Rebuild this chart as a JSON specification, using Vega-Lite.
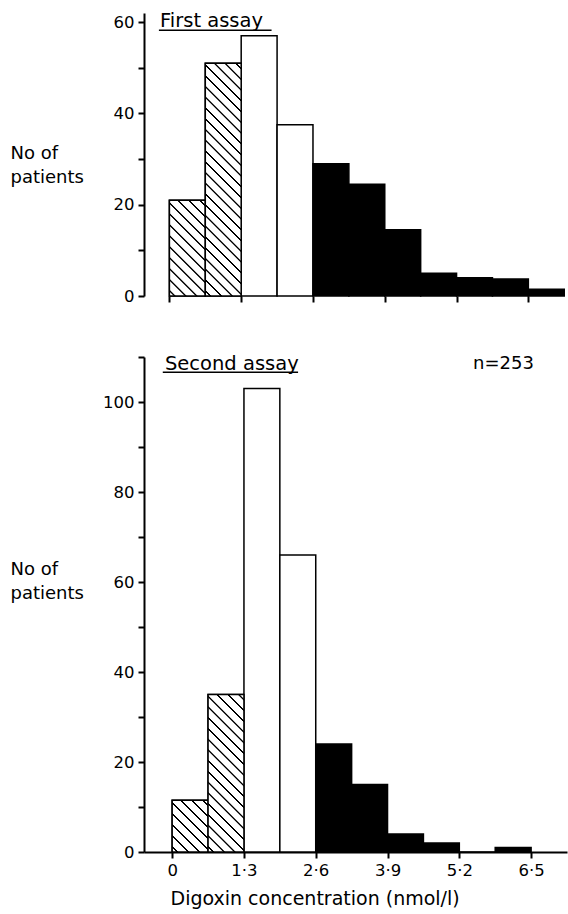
{
"$schema": "https://vega.github.io/schema/vega-lite/v6.json",
"background": "white",
"padding": {"left": 10, "top": 11, "right": 1, "bottom": 4},
"spacing": 44,
"datasets": {
"first": [
{"lo": 0, "hi": 0.65, "n": 21, "zone": "low"},
{"lo": 0.65, "hi": 1.3, "n": 51, "zone": "low"},
{"lo": 1.3, "hi": 1.95, "n": 57, "zone": "mid"},
{"lo": 1.95, "hi": 2.6, "n": 37.5, "zone": "mid"},
{"lo": 2.6, "hi": 3.25, "n": 29, "zone": "high"},
{"lo": 3.25, "hi": 3.9, "n": 24.5, "zone": "high"},
{"lo": 3.9, "hi": 4.55, "n": 14.5, "zone": "high"},
{"lo": 4.55, "hi": 5.2, "n": 5, "zone": "high"},
{"lo": 5.2, "hi": 5.85, "n": 4, "zone": "high"},
{"lo": 5.85, "hi": 6.5, "n": 3.7, "zone": "high"},
{"lo": 6.5, "hi": 7.15, "n": 1.5, "zone": "high"}
],
"second": [
{"lo": 0, "hi": 0.65, "n": 11.5, "zone": "low"},
{"lo": 0.65, "hi": 1.3, "n": 35, "zone": "low"},
{"lo": 1.3, "hi": 1.95, "n": 103, "zone": "mid"},
{"lo": 1.95, "hi": 2.6, "n": 66, "zone": "mid"},
{"lo": 2.6, "hi": 3.25, "n": 24, "zone": "high"},
{"lo": 3.25, "hi": 3.9, "n": 15, "zone": "high"},
{"lo": 3.9, "hi": 4.55, "n": 4, "zone": "high"},
{"lo": 4.55, "hi": 5.2, "n": 2, "zone": "high"},
{"lo": 5.2, "hi": 5.85, "n": 0, "zone": "high"},
{"lo": 5.85, "hi": 6.5, "n": 1, "zone": "high"}
]
},
"config": {
"view": {"stroke": null},
"font": "DejaVu Sans",
"axis": {"grid": false, "domainColor": "black", "domainWidth": 2, "tickColor": "black", "tickWidth": 2, "tickSize": 6, "labelFont": "DejaVu Sans", "labelFontSize": 16.5, "labelColor": "black", "labelPadding": 4, "labelFlush": false, "labelOverlap": false, "labelBound": false, "titleFont": "DejaVu Sans", "titleFontSize": 18, "titleFontWeight": "normal", "titleColor": "black"}
},
"vconcat": [
{
"width": 423, "height": 283,
"layer": [
{
"data": {"name": "first"},
"mark": {"type": "rect", "stroke": "black", "strokeWidth": 1.5},
"encoding": {
"x": {"field": "lo", "type": "quantitative", "scale": {"domain": [-0.46, 7.2], "nice": false, "zero": false}, "axis": {"values": [0, 0.65, 1.3, 1.95, 2.6, 3.25, 3.9, 4.55, 5.2, 5.85, 6.5, 7.15], "labels": false, "domain": false, "title": null}},
"x2": {"field": "hi"},
"y": {"field": "n", "type": "quantitative", "scale": {"domain": [0, 62], "nice": false}, "axis": {"values": [0, 10, 20, 30, 40, 50, 60], "labelExpr": "datum.value % 20 == 0 ? datum.label : ''", "title": ["No of", "patients"], "titleAngle": 0, "titleAlign": "left", "titleBaseline": "alphabetic", "titleX": -134, "titleY": 145, "titleLineHeight": 24}},
"y2": {"datum": 0},
"fill": {"field": "zone", "type": "nominal", "scale": {"domain": ["low", "mid", "high"], "range": ["white", "white", "black"]}, "legend": null}
}
},
{
"data": {"name": "first"},
"transform": [{"filter": "datum.lo == 0"}],
"mark": {"type": "rect", "stroke": "black", "strokeWidth": 1.5, "fill": {"gradient": "linear", "x1": 0, "y1": 1, "x2": 0.4513, "y2": -0.2055, "stops": [
{"offset":0.0317,"color":"#fff"},{"offset":0.0367,"color":"#000"},{"offset":0.0467,"color":"#000"},{"offset":0.0517,"color":"#fff"},
{"offset":0.1150,"color":"#fff"},{"offset":0.1200,"color":"#000"},{"offset":0.1300,"color":"#000"},{"offset":0.1350,"color":"#fff"},
{"offset":0.1983,"color":"#fff"},{"offset":0.2033,"color":"#000"},{"offset":0.2133,"color":"#000"},{"offset":0.2183,"color":"#fff"},
{"offset":0.2817,"color":"#fff"},{"offset":0.2867,"color":"#000"},{"offset":0.2967,"color":"#000"},{"offset":0.3017,"color":"#fff"},
{"offset":0.3650,"color":"#fff"},{"offset":0.3700,"color":"#000"},{"offset":0.3800,"color":"#000"},{"offset":0.3850,"color":"#fff"},
{"offset":0.4483,"color":"#fff"},{"offset":0.4533,"color":"#000"},{"offset":0.4633,"color":"#000"},{"offset":0.4683,"color":"#fff"},
{"offset":0.5317,"color":"#fff"},{"offset":0.5367,"color":"#000"},{"offset":0.5467,"color":"#000"},{"offset":0.5517,"color":"#fff"},
{"offset":0.6150,"color":"#fff"},{"offset":0.6200,"color":"#000"},{"offset":0.6300,"color":"#000"},{"offset":0.6350,"color":"#fff"},
{"offset":0.6983,"color":"#fff"},{"offset":0.7033,"color":"#000"},{"offset":0.7133,"color":"#000"},{"offset":0.7183,"color":"#fff"},
{"offset":0.7817,"color":"#fff"},{"offset":0.7867,"color":"#000"},{"offset":0.7967,"color":"#000"},{"offset":0.8017,"color":"#fff"},
{"offset":0.8650,"color":"#fff"},{"offset":0.8700,"color":"#000"},{"offset":0.8800,"color":"#000"},{"offset":0.8850,"color":"#fff"},
{"offset":0.9483,"color":"#fff"},{"offset":0.9533,"color":"#000"},{"offset":0.9633,"color":"#000"},{"offset":0.9683,"color":"#fff"}
]}},
"encoding": {"x": {"field": "lo", "type": "quantitative"}, "x2": {"field": "hi"}, "y": {"field": "n", "type": "quantitative"}, "y2": {"datum": 0}}
},
{
"data": {"name": "first"},
"transform": [{"filter": "datum.lo == 0.65"}],
"mark": {"type": "rect", "stroke": "black", "strokeWidth": 1.5, "fill": {"gradient": "linear", "x1": 0, "y1": 1, "x2": 0.1739, "y2": -0.1274, "stops": [
{"offset":0.0152,"color":"#fff"},{"offset":0.0176,"color":"#000"},{"offset":0.0224,"color":"#000"},{"offset":0.0248,"color":"#fff"},
{"offset":0.0552,"color":"#fff"},{"offset":0.0576,"color":"#000"},{"offset":0.0624,"color":"#000"},{"offset":0.0648,"color":"#fff"},
{"offset":0.0952,"color":"#fff"},{"offset":0.0976,"color":"#000"},{"offset":0.1024,"color":"#000"},{"offset":0.1048,"color":"#fff"},
{"offset":0.1352,"color":"#fff"},{"offset":0.1376,"color":"#000"},{"offset":0.1424,"color":"#000"},{"offset":0.1448,"color":"#fff"},
{"offset":0.1752,"color":"#fff"},{"offset":0.1776,"color":"#000"},{"offset":0.1824,"color":"#000"},{"offset":0.1848,"color":"#fff"},
{"offset":0.2152,"color":"#fff"},{"offset":0.2176,"color":"#000"},{"offset":0.2224,"color":"#000"},{"offset":0.2248,"color":"#fff"},
{"offset":0.2552,"color":"#fff"},{"offset":0.2576,"color":"#000"},{"offset":0.2624,"color":"#000"},{"offset":0.2648,"color":"#fff"},
{"offset":0.2952,"color":"#fff"},{"offset":0.2976,"color":"#000"},{"offset":0.3024,"color":"#000"},{"offset":0.3048,"color":"#fff"},
{"offset":0.3352,"color":"#fff"},{"offset":0.3376,"color":"#000"},{"offset":0.3424,"color":"#000"},{"offset":0.3448,"color":"#fff"},
{"offset":0.3752,"color":"#fff"},{"offset":0.3776,"color":"#000"},{"offset":0.3824,"color":"#000"},{"offset":0.3848,"color":"#fff"},
{"offset":0.4152,"color":"#fff"},{"offset":0.4176,"color":"#000"},{"offset":0.4224,"color":"#000"},{"offset":0.4248,"color":"#fff"},
{"offset":0.4552,"color":"#fff"},{"offset":0.4576,"color":"#000"},{"offset":0.4624,"color":"#000"},{"offset":0.4648,"color":"#fff"},
{"offset":0.4952,"color":"#fff"},{"offset":0.4976,"color":"#000"},{"offset":0.5024,"color":"#000"},{"offset":0.5048,"color":"#fff"},
{"offset":0.5352,"color":"#fff"},{"offset":0.5376,"color":"#000"},{"offset":0.5424,"color":"#000"},{"offset":0.5448,"color":"#fff"},
{"offset":0.5752,"color":"#fff"},{"offset":0.5776,"color":"#000"},{"offset":0.5824,"color":"#000"},{"offset":0.5848,"color":"#fff"},
{"offset":0.6152,"color":"#fff"},{"offset":0.6176,"color":"#000"},{"offset":0.6224,"color":"#000"},{"offset":0.6248,"color":"#fff"},
{"offset":0.6552,"color":"#fff"},{"offset":0.6576,"color":"#000"},{"offset":0.6624,"color":"#000"},{"offset":0.6648,"color":"#fff"},
{"offset":0.6952,"color":"#fff"},{"offset":0.6976,"color":"#000"},{"offset":0.7024,"color":"#000"},{"offset":0.7048,"color":"#fff"},
{"offset":0.7352,"color":"#fff"},{"offset":0.7376,"color":"#000"},{"offset":0.7424,"color":"#000"},{"offset":0.7448,"color":"#fff"},
{"offset":0.7752,"color":"#fff"},{"offset":0.7776,"color":"#000"},{"offset":0.7824,"color":"#000"},{"offset":0.7848,"color":"#fff"},
{"offset":0.8152,"color":"#fff"},{"offset":0.8176,"color":"#000"},{"offset":0.8224,"color":"#000"},{"offset":0.8248,"color":"#fff"},
{"offset":0.8552,"color":"#fff"},{"offset":0.8576,"color":"#000"},{"offset":0.8624,"color":"#000"},{"offset":0.8648,"color":"#fff"},
{"offset":0.8952,"color":"#fff"},{"offset":0.8976,"color":"#000"},{"offset":0.9024,"color":"#000"},{"offset":0.9048,"color":"#fff"},
{"offset":0.9352,"color":"#fff"},{"offset":0.9376,"color":"#000"},{"offset":0.9424,"color":"#000"},{"offset":0.9448,"color":"#fff"},
{"offset":0.9752,"color":"#fff"},{"offset":0.9776,"color":"#000"},{"offset":0.9824,"color":"#000"},{"offset":0.9848,"color":"#fff"}
]}},
"encoding": {"x": {"field": "lo", "type": "quantitative"}, "x2": {"field": "hi"}, "y": {"field": "n", "type": "quantitative"}, "y2": {"datum": 0}}
},
{
"data": {"values": [{"label": "First assay"}]},
"mark": {"type": "text", "align": "left", "baseline": "alphabetic", "font": "DejaVu Sans", "fontSize": 19.5, "color": "black"},
"encoding": {"x": {"datum": -0.17}, "y": {"datum": 58.9}, "text": {"field": "label"}}
},
{
"data": {"values": [{"label": "underline"}]},
"mark": {"type": "rule", "stroke": "black", "strokeWidth": 1.5},
"encoding": {"x": {"datum": -0.19}, "x2": {"datum": 1.85}, "y": {"datum": 58.2}}
}
]
},
{
"width": 423, "height": 495,
"layer": [
{
"data": {"name": "second"},
"mark": {"type": "rect", "stroke": "black", "strokeWidth": 1.5},
"encoding": {
"x": {"field": "lo", "type": "quantitative", "scale": {"domain": [-0.51, 7.15], "nice": false, "zero": false}, "axis": {"values": [0, 0.65, 1.3, 1.95, 2.6, 3.25, 3.9, 4.55, 5.2, 5.85, 6.5, 7.15], "labelExpr": "datum.value == 0 ? '0' : ((abs(datum.value / 1.3 - round(datum.value / 1.3)) < 0.01 && datum.value < 7) ? replace(format(datum.value, '.1f'), '.', '·') : '')", "title": "Digoxin concentration (nmol/l)", "titleFontSize": 19, "titleAlign": "left", "titleBaseline": "alphabetic", "titleX": 26, "titleY": 52}},
"x2": {"field": "hi"},
"y": {"field": "n", "type": "quantitative", "scale": {"domain": [0, 110], "nice": false}, "axis": {"values": [0, 10, 20, 30, 40, 50, 60, 70, 80, 90, 100, 110], "labelExpr": "datum.value % 20 == 0 ? datum.label : ''", "title": ["No of", "patients"], "titleAngle": 0, "titleAlign": "left", "titleBaseline": "alphabetic", "titleX": -134, "titleY": 217, "titleLineHeight": 24}},
"y2": {"datum": 0},
"fill": {"field": "zone", "type": "nominal", "scale": {"domain": ["low", "mid", "high"], "range": ["white", "white", "black"]}, "legend": null}
}
},
{
"data": {"name": "second"},
"transform": [{"filter": "datum.lo == 0"}],
"mark": {"type": "rect", "stroke": "black", "strokeWidth": 1.5, "fill": {"gradient": "linear", "x1": 0, "y1": 1, "x2": 0.7932, "y2": -0.1435, "stops": [
{"offset":0.0475,"color":"#fff"},{"offset":0.055,"color":"#000"},{"offset":0.07,"color":"#000"},{"offset":0.0775,"color":"#fff"},
{"offset":0.1725,"color":"#fff"},{"offset":0.18,"color":"#000"},{"offset":0.195,"color":"#000"},{"offset":0.2025,"color":"#fff"},
{"offset":0.2975,"color":"#fff"},{"offset":0.305,"color":"#000"},{"offset":0.32,"color":"#000"},{"offset":0.3275,"color":"#fff"},
{"offset":0.4225,"color":"#fff"},{"offset":0.43,"color":"#000"},{"offset":0.445,"color":"#000"},{"offset":0.4525,"color":"#fff"},
{"offset":0.5475,"color":"#fff"},{"offset":0.555,"color":"#000"},{"offset":0.57,"color":"#000"},{"offset":0.5775,"color":"#fff"},
{"offset":0.6725,"color":"#fff"},{"offset":0.68,"color":"#000"},{"offset":0.695,"color":"#000"},{"offset":0.7025,"color":"#fff"},
{"offset":0.7975,"color":"#fff"},{"offset":0.805,"color":"#000"},{"offset":0.82,"color":"#000"},{"offset":0.8275,"color":"#fff"},
{"offset":0.9225,"color":"#fff"},{"offset":0.93,"color":"#000"},{"offset":0.945,"color":"#000"},{"offset":0.9525,"color":"#fff"}
]}},
"encoding": {"x": {"field": "lo", "type": "quantitative"}, "x2": {"field": "hi"}, "y": {"field": "n", "type": "quantitative"}, "y2": {"datum": 0}}
},
{
"data": {"name": "second"},
"transform": [{"filter": "datum.lo == 0.65"}],
"mark": {"type": "rect", "stroke": "black", "strokeWidth": 1.5, "fill": {"gradient": "linear", "x1": 0, "y1": 1, "x2": 0.2661, "y2": -0.1673, "stops": [
{"offset":0.0211,"color":"#fff"},{"offset":0.0244,"color":"#000"},{"offset":0.0311,"color":"#000"},{"offset":0.0344,"color":"#fff"},
{"offset":0.0767,"color":"#fff"},{"offset":0.0800,"color":"#000"},{"offset":0.0867,"color":"#000"},{"offset":0.0900,"color":"#fff"},
{"offset":0.1322,"color":"#fff"},{"offset":0.1356,"color":"#000"},{"offset":0.1422,"color":"#000"},{"offset":0.1456,"color":"#fff"},
{"offset":0.1878,"color":"#fff"},{"offset":0.1911,"color":"#000"},{"offset":0.1978,"color":"#000"},{"offset":0.2011,"color":"#fff"},
{"offset":0.2433,"color":"#fff"},{"offset":0.2467,"color":"#000"},{"offset":0.2533,"color":"#000"},{"offset":0.2567,"color":"#fff"},
{"offset":0.2989,"color":"#fff"},{"offset":0.3022,"color":"#000"},{"offset":0.3089,"color":"#000"},{"offset":0.3122,"color":"#fff"},
{"offset":0.3544,"color":"#fff"},{"offset":0.3578,"color":"#000"},{"offset":0.3644,"color":"#000"},{"offset":0.3678,"color":"#fff"},
{"offset":0.4100,"color":"#fff"},{"offset":0.4133,"color":"#000"},{"offset":0.4200,"color":"#000"},{"offset":0.4233,"color":"#fff"},
{"offset":0.4656,"color":"#fff"},{"offset":0.4689,"color":"#000"},{"offset":0.4756,"color":"#000"},{"offset":0.4789,"color":"#fff"},
{"offset":0.5211,"color":"#fff"},{"offset":0.5244,"color":"#000"},{"offset":0.5311,"color":"#000"},{"offset":0.5344,"color":"#fff"},
{"offset":0.5767,"color":"#fff"},{"offset":0.5800,"color":"#000"},{"offset":0.5867,"color":"#000"},{"offset":0.5900,"color":"#fff"},
{"offset":0.6322,"color":"#fff"},{"offset":0.6356,"color":"#000"},{"offset":0.6422,"color":"#000"},{"offset":0.6456,"color":"#fff"},
{"offset":0.6878,"color":"#fff"},{"offset":0.6911,"color":"#000"},{"offset":0.6978,"color":"#000"},{"offset":0.7011,"color":"#fff"},
{"offset":0.7433,"color":"#fff"},{"offset":0.7467,"color":"#000"},{"offset":0.7533,"color":"#000"},{"offset":0.7567,"color":"#fff"},
{"offset":0.7989,"color":"#fff"},{"offset":0.8022,"color":"#000"},{"offset":0.8089,"color":"#000"},{"offset":0.8122,"color":"#fff"},
{"offset":0.8544,"color":"#fff"},{"offset":0.8578,"color":"#000"},{"offset":0.8644,"color":"#000"},{"offset":0.8678,"color":"#fff"},
{"offset":0.9100,"color":"#fff"},{"offset":0.9133,"color":"#000"},{"offset":0.9200,"color":"#000"},{"offset":0.9233,"color":"#fff"},
{"offset":0.9656,"color":"#fff"},{"offset":0.9689,"color":"#000"},{"offset":0.9756,"color":"#000"},{"offset":0.9789,"color":"#fff"}
]}},
"encoding": {"x": {"field": "lo", "type": "quantitative"}, "x2": {"field": "hi"}, "y": {"field": "n", "type": "quantitative"}, "y2": {"datum": 0}}
},
{
"data": {"values": [{"label": "Second assay"}]},
"mark": {"type": "text", "align": "left", "baseline": "alphabetic", "font": "DejaVu Sans", "fontSize": 19.5, "color": "black"},
"encoding": {"x": {"datum": -0.13}, "y": {"datum": 107.2}, "text": {"field": "label"}}
},
{
"data": {"values": [{"label": "underline"}]},
"mark": {"type": "rule", "stroke": "black", "strokeWidth": 1.5},
"encoding": {"x": {"datum": -0.17}, "x2": {"datum": 2.28}, "y": {"datum": 106.6}}
},
{
"data": {"values": [{"label": "n=253"}]},
"mark": {"type": "text", "align": "left", "baseline": "alphabetic", "font": "DejaVu Sans", "fontSize": 18, "color": "black"},
"encoding": {"x": {"datum": 5.45}, "y": {"datum": 107.4}, "text": {"field": "label"}}
}
]
}
]
}
